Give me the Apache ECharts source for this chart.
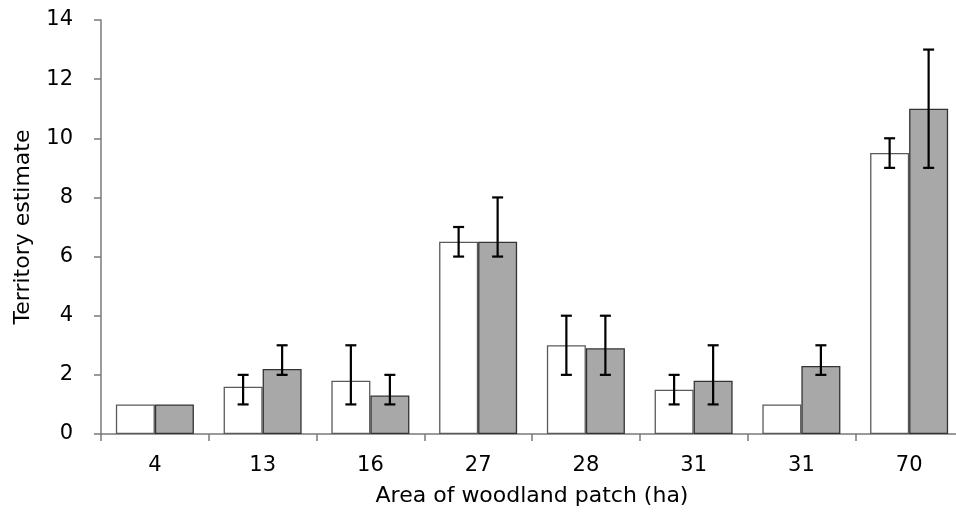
<!DOCTYPE html>
<html>
<head>
<meta charset="utf-8">
<script src="https://cdn.jsdelivr.net/npm/echarts@6/dist/echarts.min.js"></script>
<style>html,body{margin:0;padding:0;background:#fff;}#c{width:956px;height:514px;}</style>
</head>
<body>
<div id="c"></div>
<script>
var categories = ['4', '13', '16', '27', '28', '31', '31', '70'];
var whiteValues = [1, 1.6, 1.8, 6.5, 3.0, 1.5, 1.0, 9.5];
var grayValues = [1, 2.2, 1.3, 6.5, 2.9, 1.8, 2.3, 11];
var whiteErrLow = [null, 1, 1, 6, 2, 1, null, 9];
var whiteErrHigh = [null, 2, 3, 7, 4, 2, null, 10];
var grayErrLow = [null, 2, 1, 6, 2, 1, 2, 9];
var grayErrHigh = [null, 3, 2, 8, 4, 3, 3, 13];
var yTicks = [0, 2, 4, 6, 8, 10, 12, 14];

var BAR_FRAC = 0.362;
var FONT = '"DejaVu Sans", sans-serif';

function errData(lo, hi) {
  var out = [];
  for (var i = 0; i < categories.length; i++) {
    if (lo[i] != null && hi[i] != null) out.push([i, lo[i], hi[i]]);
  }
  return out;
}

function errRender(sign) {
  return function (params, api) {
    var idx = api.value(0);
    var lowP = api.coord([idx, api.value(1)]);
    var highP = api.coord([idx, api.value(2)]);
    var catW = api.size([1, 0])[0];
    var x = lowP[0] + sign * catW * BAR_FRAC / 2;
    var half = 5.5;
    var style = { stroke: '#000', lineWidth: 2.2 };
    return {
      type: 'group',
      children: [
        { type: 'line', shape: { x1: x, y1: highP[1], x2: x, y2: lowP[1] }, style: style },
        { type: 'line', shape: { x1: x - half, y1: highP[1], x2: x + half, y2: highP[1] }, style: style },
        { type: 'line', shape: { x1: x - half, y1: lowP[1], x2: x + half, y2: lowP[1] }, style: style }
      ]
    };
  };
}

var chart = echarts.init(document.getElementById('c'), null, { renderer: 'canvas' });
chart.setOption({
  animation: false,
  backgroundColor: '#fff',
  grid: { left: 101, width: 862, top: 20, bottom: 80, containLabel: false, outerBoundsMode: 'none' },
  xAxis: {
    type: 'category',
    data: categories,
    name: 'Area of woodland patch (ha)',
    nameLocation: 'middle',
    nameGap: 51,
    nameTextStyle: { fontFamily: FONT, fontSize: 22, color: '#000' },
    axisLine: { lineStyle: { color: '#7a7a7a', width: 1.5 } },
    axisTick: { show: true, alignWithLabel: false, length: 7, lineStyle: { color: '#7a7a7a', width: 1.5 } },
    axisLabel: { fontFamily: FONT, fontSize: 21, color: '#000', margin: 21 },
    splitLine: { show: false }
  },
  yAxis: {
    type: 'value',
    min: 0,
    max: 14,
    interval: 2,
    name: 'Territory estimate',
    nameLocation: 'middle',
    nameGap: 67,
    nameTextStyle: { fontFamily: FONT, fontSize: 22, color: '#000' },
    axisLine: { show: true, lineStyle: { color: '#7a7a7a', width: 1.5 } },
    axisTick: { show: true, length: 7, lineStyle: { color: '#7a7a7a', width: 1.5 } },
    axisLabel: {
      fontFamily: FONT, fontSize: 21, color: '#000', margin: 28,
      formatter: function (v) { return yTicks.indexOf(v) >= 0 ? String(v) : ''; }
    },
    splitLine: { show: false }
  },
  series: [
    {
      type: 'bar',
      data: whiteValues,
      barWidth: (BAR_FRAC * 100) + '%',
      barGap: '0%',
      itemStyle: { color: '#ffffff', borderColor: '#5a5a5a', borderWidth: 1.3 }
    },
    {
      type: 'bar',
      data: grayValues,
      barWidth: (BAR_FRAC * 100) + '%',
      barGap: '0%',
      itemStyle: { color: '#a8a8a8', borderColor: '#333333', borderWidth: 1.3 }
    },
    {
      type: 'custom',
      data: errData(whiteErrLow, whiteErrHigh),
      renderItem: errRender(-1),
      encode: { x: 0, y: [1, 2] },
      z: 10
    },
    {
      type: 'custom',
      data: errData(grayErrLow, grayErrHigh),
      renderItem: errRender(1),
      encode: { x: 0, y: [1, 2] },
      z: 10
    }
  ]
});
</script>
</body>
</html>
